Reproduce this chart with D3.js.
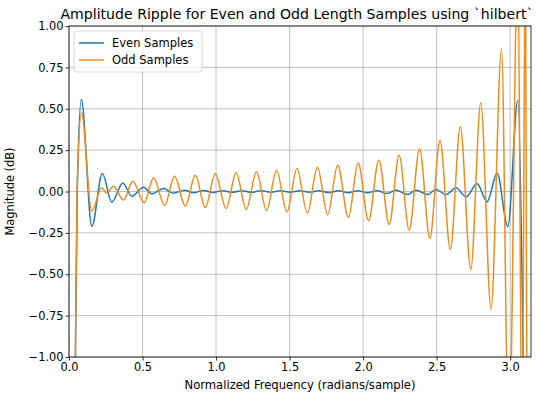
<!DOCTYPE html>
<html>
<head>
<meta charset="utf-8">
<script src="https://cdn.jsdelivr.net/npm/d3@7"></script>
<style>
body { margin: 0; background: #fff; }
text { font-family: "DejaVu Sans", sans-serif; }
</style>
</head>
<body>
<div id="chart"></div>
<script>
// values (extrema of the ripple)
var evenX = [0.000, 0.044, 0.056, 0.084, 0.155, 0.227, 0.291, 0.366, 0.427, 0.507, 0.564, 0.643, 0.711, 0.784,
             0.847, 0.913, 0.979, 1.044, 1.110, 1.176, 1.241, 1.307, 1.373, 1.438, 1.504, 1.570, 1.635, 1.701,
             1.767, 1.832, 1.898, 1.964, 2.029, 2.095, 2.161, 2.223, 2.302, 2.359, 2.439, 2.495, 2.564, 2.632,
             2.700, 2.775, 2.843, 2.911, 2.984, 3.052, 3.088, 3.1416];
var evenY = [-6.0, -1.0, 0.0, 0.556, -0.210, 0.109, -0.065, 0.052, -0.028, 0.026, -0.014, 0.018, -0.010, 0.008,
             -0.008, 0.006, -0.006, 0.005, -0.005, 0.005, -0.005, 0.004, -0.005, 0.004, -0.005, 0.004, -0.005, 0.004,
             -0.006, 0.004, -0.007, 0.004, -0.008, 0.005, -0.012, 0.008, -0.018, 0.008, -0.018, 0.012, -0.018, 0.022,
             -0.032, 0.047, -0.062, 0.110, -0.213, 0.552, -1.0, -7.0];

var oddX = [0.000, 0.043, 0.055, 0.085, 0.155, 0.222, 0.257, 0.302, 0.370, 0.434, 0.511, 0.575, 0.650, 0.718,
            0.791, 0.859, 0.927, 0.995, 1.068, 1.137, 1.205, 1.275, 1.343, 1.411, 1.482, 1.550, 1.621, 1.689,
            1.759, 1.827, 1.900, 1.966, 2.037, 2.107, 2.177, 2.245, 2.313, 2.384, 2.454, 2.523, 2.593, 2.661,
            2.732, 2.800, 2.870, 2.941, 2.991, 3.052, 3.081, 3.104, 3.1416];
var oddY = [-6.0, -1.0, 0.0, 0.475, -0.119, 0.022, -0.010, 0.032, -0.052, 0.062, -0.068, 0.083, -0.085, 0.092,
            -0.089, 0.098, -0.097, 0.107, -0.102, 0.113, -0.109, 0.119, -0.115, 0.127, -0.123, 0.137, -0.131, 0.147,
            -0.141, 0.159, -0.157, 0.174, -0.177, 0.191, -0.199, 0.219, -0.234, 0.258, -0.284, 0.310, -0.350, 0.391,
            -0.471, 0.536, -0.709, 0.862, -1.6, 1.4, -1.6, 1.6, -10.0];

var xTicks = [0.0, 0.5, 1.0, 1.5, 2.0, 2.5, 3.0];
var yTicks = [-1.0, -0.75, -0.5, -0.25, 0.0, 0.25, 0.5, 0.75, 1.0];
var seriesNames = ["Even Samples", "Odd Samples"];
var seriesColors = ["#1f77b4", "#ec8d1c"];

var width = 540, height = 393;
var margin = {top: 26, right: 9, bottom: 36, left: 69};

var svg = d3.select("#chart").append("svg")
            .attr("width", width)
            .attr("height", height);

var x = d3.scaleLinear().domain([0, Math.PI]).range([margin.left, width - margin.right]);
var y = d3.scaleLinear().domain([-1, 1]).range([height - margin.bottom, margin.top]);

var fmtY = function(d) { return d3.format(".2f")(d).replace("-", "\u2212"); };

// grid
svg.append("g")
   .selectAll("line")
   .data(xTicks)
   .enter().append("line")
   .attr("x1", d => x(d)).attr("x2", d => x(d))
   .attr("y1", y(-1)).attr("y2", y(1))
   .attr("stroke", "#b0b0b0").attr("stroke-width", 0.8);

svg.append("g")
   .selectAll("line")
   .data(yTicks)
   .enter().append("line")
   .attr("x1", x(0)).attr("x2", x(Math.PI))
   .attr("y1", d => y(d)).attr("y2", d => y(d))
   .attr("stroke", "#b0b0b0").attr("stroke-width", 0.8);

svg.append("clipPath").attr("id", "plotclip")
   .append("rect")
   .attr("x", x(0)).attr("y", y(1))
   .attr("width", x(Math.PI) - x(0))
   .attr("height", y(-1) - y(1));

var line = d3.line()
             .x(d => x(d[0]))
             .y(d => y(d[1]))
             .curve(d3.curveMonotoneX);

var evenData = d3.zip(evenX, evenY);
var oddData = d3.zip(oddX, oddY);

var plot = svg.append("g").attr("clip-path", "url(#plotclip)");
plot.append("path").datum(evenData)
    .attr("d", line)
    .attr("fill", "none")
    .attr("stroke", seriesColors[0])
    .attr("stroke-width", 1.5);
plot.append("path").datum(oddData)
    .attr("d", line)
    .attr("fill", "none")
    .attr("stroke", seriesColors[1])
    .attr("stroke-width", 1.5);

// axes
var xAxis = svg.append("g")
   .attr("transform", "translate(0," + y(-1) + ")")
   .call(d3.axisBottom(x).tickValues(xTicks).tickFormat(d3.format(".1f")).tickSize(3.5).tickPadding(2));
var yAxis = svg.append("g")
   .attr("transform", "translate(" + x(0) + ",0)")
   .call(d3.axisLeft(y).tickValues(yTicks).tickFormat(fmtY).tickSize(3.5).tickPadding(2));

[xAxis, yAxis].forEach(function(a) {
  a.select(".domain").remove();
  a.selectAll("text").attr("font-size", 11.4).attr("fill", "#000")
   .attr("font-family", "DejaVu Sans, sans-serif");
  a.selectAll("line").attr("stroke", "#000").attr("stroke-width", 0.8);
});

// frame
svg.append("rect")
   .attr("x", x(0)).attr("y", y(1))
   .attr("width", x(Math.PI) - x(0))
   .attr("height", y(-1) - y(1))
   .attr("fill", "none")
   .attr("stroke", "#000")
   .attr("stroke-width", 0.8);

// titles
svg.append("text")
   .attr("x", 297)
   .attr("y", 19)
   .attr("text-anchor", "middle")
   .attr("font-size", 14.1)
   .text("Amplitude Ripple for Even and Odd Length Samples using `hilbert`");

svg.append("text")
   .attr("x", (x(0) + x(Math.PI)) / 2)
   .attr("y", 389)
   .attr("text-anchor", "middle")
   .attr("font-size", 11.6)
   .text("Normalized Frequency (radians/sample)");

svg.append("text")
   .attr("transform", "translate(14," + y(0) + ") rotate(-90)")
   .attr("text-anchor", "middle")
   .attr("font-size", 11.4)
   .text("Magnitude (dB)");

// legend
var legend = svg.append("g").attr("transform", "translate(" + (x(0) + 5) + "," + (y(1) + 5) + ")");
legend.append("rect")
      .attr("width", 128).attr("height", 41)
      .attr("rx", 3)
      .attr("fill", "#fff").attr("fill-opacity", 0.8)
      .attr("stroke", "#d0d0d0").attr("stroke-width", 0.8);

seriesNames.forEach(function(name, i) {
  var row = legend.append("g").attr("transform", "translate(0," + (12 + i * 17) + ")");
  row.append("line")
     .attr("x1", 5).attr("x2", 30)
     .attr("stroke", seriesColors[i]).attr("stroke-width", 1.5);
  row.append("text")
     .attr("x", 38).attr("y", 4)
     .attr("font-size", 11.5)
     .text(name);
});
</script>
</body>
</html>
